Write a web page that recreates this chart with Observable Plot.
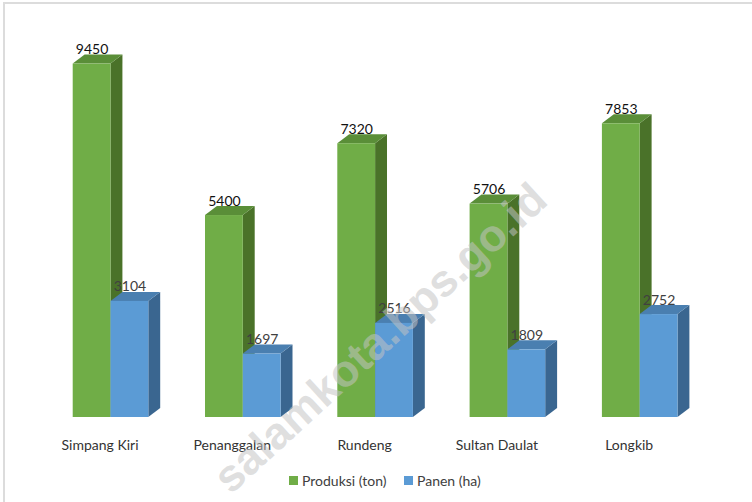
<!DOCTYPE html>
<html><head><meta charset="utf-8">
<script src="https://cdn.jsdelivr.net/npm/d3@7"></script>
<script src="https://cdn.jsdelivr.net/npm/@observablehq/plot@0.6"></script>
<style>
body{margin:0;background:#fff;font-family:Lato,"Open Sans",sans-serif;}
#wrap{position:relative;width:752px;height:502px;overflow:hidden;background:#fff;}
#border{position:absolute;left:3px;top:2px;width:900px;height:700px;border-top:2px solid #dcdcdc;border-left:2px solid #dcdcdc;pointer-events:none;}
#chart{position:absolute;left:0;top:0;}
#legend{position:absolute;left:0;top:465px;width:752px;height:30px;font-size:14px;color:#404040;}
.item{position:absolute;top:7px;display:flex;align-items:center;white-space:nowrap;}
.sw{width:9px;height:9px;margin-right:4px;}
</style></head>
<body>
<div id="wrap"><div id="border"></div><div id="chart"></div><div id="legend"></div></div>
<script>
// ---- data ----
const categories = ["Simpang Kiri", "Penanggalan", "Rundeng", "Sultan Daulat", "Longkib"];
const produksi = [9450, 5400, 7320, 5706, 7853];
const panen = [3104, 1697, 2516, 1809, 2752];
const seriesNames = ["Produksi (ton)", "Panen (ha)"];
const watermark = ["salamkota.bps.go.id"];

// ---- styles ----
const frontC = ["#70AD47", "#5B9BD5"];
const topC = ["#5A8E38", "#4A7FB0"];
const sideC = ["#4A7229", "#3A6690"];
const labelC = ["#111111", "#404040"];

const W = 0.2857;   // bar width in category units
const DX = 0.09;    // depth offset (x units)
const DY = 240;     // depth offset (y units)

const series = [produksi, panen];
const rows = [];
series.forEach((vals, s) => vals.forEach((v, i) => {
  rows.push({s, i, v, x1: i - W + s * W, x2: i + s * W});
}));
const sideFaces = [], topFaces = [];
rows.forEach((r, k) => {
  sideFaces.push({k, s: r.s, x: r.x2, y1: 0, y2: r.v});
  sideFaces.push({k, s: r.s, x: r.x2 + DX, y1: DY, y2: r.v + DY});
  topFaces.push({k, s: r.s, x: r.x1, y1: r.v, y2: r.v});
  topFaces.push({k, s: r.s, x: r.x1 + DX, y1: r.v, y2: r.v + DY});
  topFaces.push({k, s: r.s, x: r.x2, y1: r.v, y2: r.v + DY});
  topFaces.push({k, s: r.s, x: r.x2 + DX, y1: r.v + DY, y2: r.v + DY});
});

const marks = [];
[0, 1].forEach(s => {
  marks.push(Plot.areaY(sideFaces.filter(d => d.s === s), {x: "x", y1: "y1", y2: "y2", z: "k", fill: sideC[s], curve: "linear"}));
  marks.push(Plot.areaY(topFaces.filter(d => d.s === s), {x: "x", y1: "y1", y2: "y2", z: "k", fill: topC[s], curve: "linear"}));
  marks.push(Plot.rect(rows.filter(d => d.s === s), {x1: "x1", x2: "x2", y1: 0, y2: "v", fill: frontC[s], inset: 0}));
});
[0, 1].forEach(s => {
  marks.push(Plot.text(rows.filter(d => d.s === s), {
    x: d => (d.x1 + d.x2) / 2, y: "v", text: d => String(d.v),
    dy: -10, lineAnchor: "bottom", fill: labelC[s], fontSize: 14
  }));
});
marks.push(Plot.text(categories.map((c, i) => ({c, i})), {
  x: "i", y: 0, text: "c", dx: -11, dy: 23, lineAnchor: "top", fill: "#333", fontSize: 14
}));
marks.push(Plot.text(watermark, {
  frameAnchor: "middle", dx: 5, dy: 108, rotate: -42.5, fontSize: 45, fontWeight: "bold",
  fill: "#c4c4c4", fillOpacity: 0.55, fontFamily: "Liberation Sans, Arial, sans-serif"
}));

const chart = Plot.plot({
  width: 752, height: 465,
  marginTop: 43, marginBottom: 48, marginLeft: 44.35, marginRight: 46.15,
  style: {fontFamily: "Lato, 'Open Sans', sans-serif", background: "transparent", overflow: "visible"},
  x: {type: "linear", domain: [-0.5, 4.5], axis: null},
  y: {type: "linear", domain: [0, 10000], axis: null},
  marks
});
document.getElementById("chart").appendChild(chart);

const legend = document.getElementById("legend");
const lx = [289, 404];
seriesNames.forEach((n, s) => {
  const it = document.createElement("div");
  it.className = "item";
  it.style.left = lx[s] + "px";
  const sw = document.createElement("div");
  sw.className = "sw"; sw.style.background = frontC[s];
  const t = document.createElement("span");
  t.textContent = n;
  it.appendChild(sw); it.appendChild(t);
  legend.appendChild(it);
});
</script>
</body></html>
